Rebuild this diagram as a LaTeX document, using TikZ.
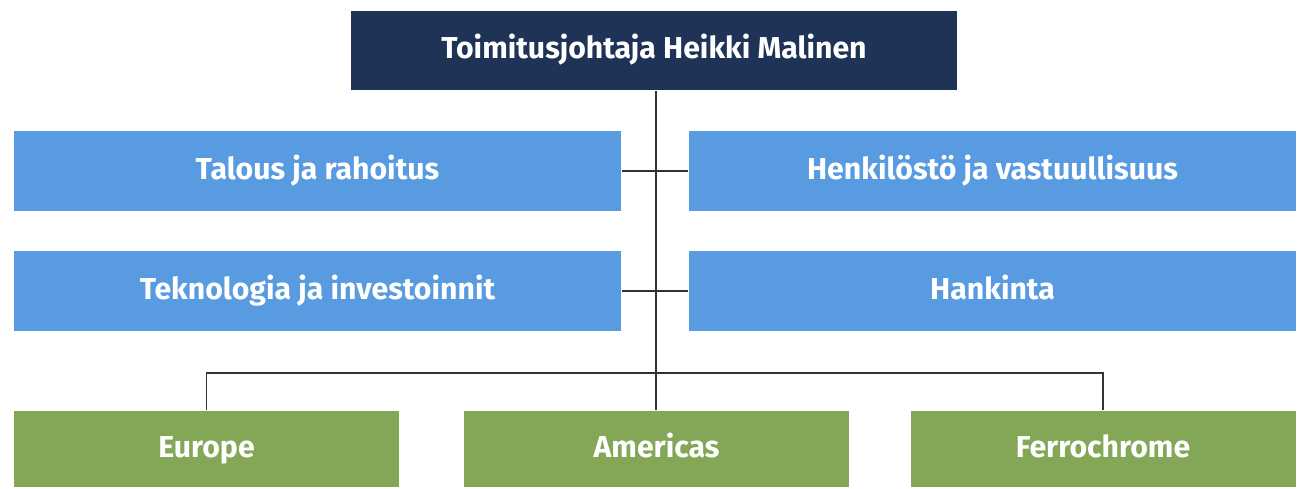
\documentclass[tikz,border=0pt]{standalone}
\usepackage{fontspec}
\setmainfont{Fira Sans}
\usetikzlibrary{positioning}
\definecolor{ceonavy}{HTML}{1F3356}
\definecolor{staffblue}{HTML}{589BE0}
\definecolor{unitgreen}{HTML}{84A657}
\definecolor{linegray}{HTML}{333333}
\begin{document}
\begin{tikzpicture}[x=0.02cm, y=-0.02cm, line width=1.1pt]
      \tikzstyle{box} = [font=\bfseries\fontsize{17.2}{20}\selectfont, text=white, inner sep=0pt, text height=0.95em, text depth=0pt]
      \tikzstyle{ceo} = [box, fill=ceonavy, minimum width=606*0.02cm, minimum height=79*0.02cm]
      \tikzstyle{staff} = [box, fill=staffblue, minimum width=607*0.02cm, minimum height=80*0.02cm]
      \tikzstyle{unit} = [box, fill=unitgreen, minimum width=385*0.02cm, minimum height=76*0.02cm]
      \useasboundingbox (0,0) rectangle (1298,488);
      \node (CEO) [ceo] at (654,50.5) {Toimitusjohtaja Heikki Malinen};
      \node (FIN) [staff] at (317.5,171) {Talous ja rahoitus};
      \node (HR) [staff] at (992.5,171) {Henkilöstö ja vastuullisuus};
      \node (TECH) [staff] at (317.5,291) {Teknologia ja investoinnit};
      \node (PROC) [staff] at (992.5,291) {Hankinta};
      \node (EUR) [unit] at (206.5,449) {Europe};
      \node (AME) [unit] at (656.5,449) {Americas};
      \node (FER) [unit] at (1103,449) {Ferrochrome};
      \coordinate (split) at (656,373);
      % lines
      \draw [linegray] (CEO.south -| split) -- (AME.north -| split);
      \draw [linegray] (FIN) -- (HR);
      \draw [linegray] (TECH) -- (PROC);
      \draw [linegray] (EUR.north) |- (split) -| (FER.north);
    \end{tikzpicture}
\end{document}
